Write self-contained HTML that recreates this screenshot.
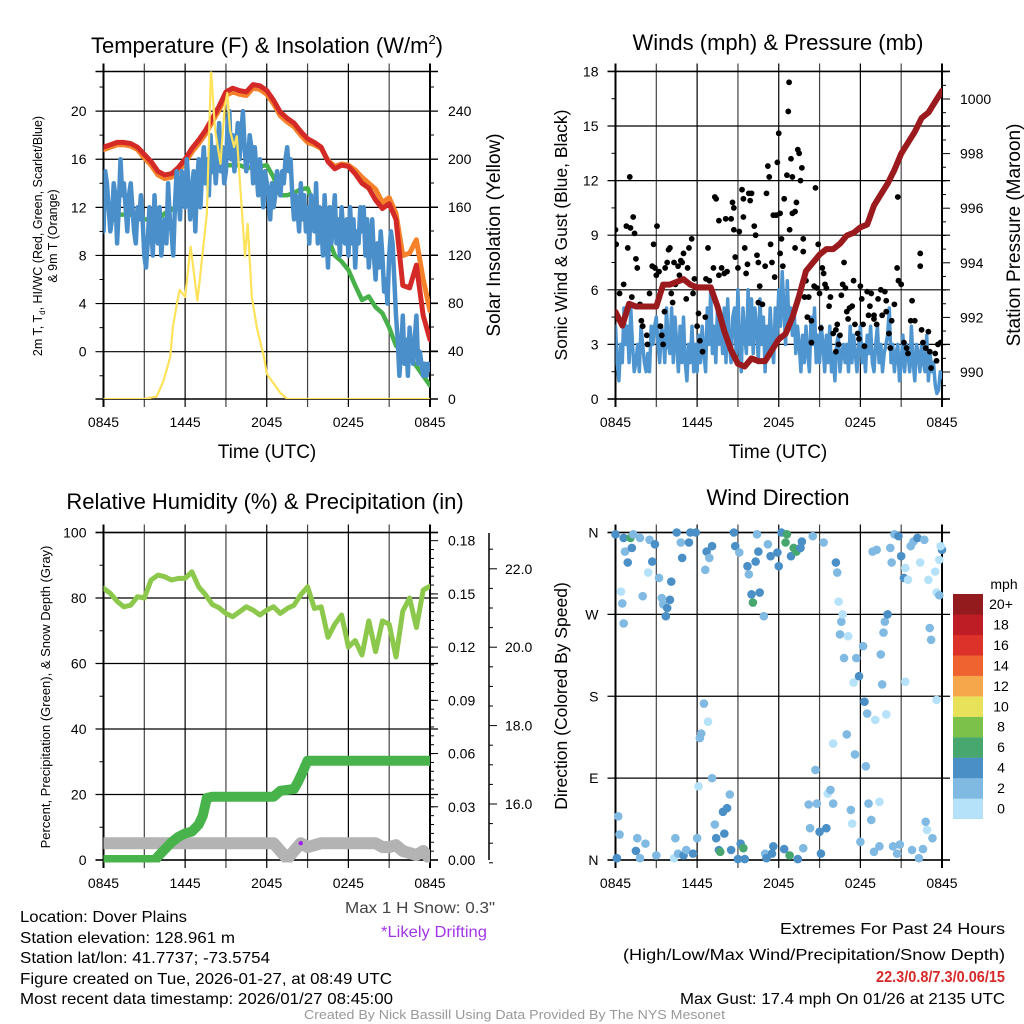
<!DOCTYPE html>
<html><head><meta charset="utf-8"><style>
html,body{margin:0;padding:0;background:#fff;}
svg{display:block;font-family:"Liberation Sans",sans-serif;}
</style></head><body>
<svg id="fig" width="1024" height="1024" viewBox="0 0 1024 1024" xmlns="http://www.w3.org/2000/svg">
<defs>
<clipPath id="c1"><rect x="103.5" y="71.5" width="326.5" height="327.5"/></clipPath>
<clipPath id="c2"><rect x="615.5" y="71.5" width="326.5" height="327.5"/></clipPath>
<clipPath id="c3"><rect x="103.5" y="532.5" width="326.5" height="330"/></clipPath>
<clipPath id="c4"><rect x="611" y="527" width="336" height="338"/></clipPath>
</defs>
<g id="g1"></g>
<g id="g2"></g>
<g id="g3"></g>
<g id="g4"></g>

<text x="267" y="53" font-size="22" text-anchor="middle">Temperature (F) &amp; Insolation (W/m<tspan font-size="13" dy="-9">2</tspan><tspan dy="9">)</tspan></text>
<text x="778" y="50" font-size="22" text-anchor="middle">Winds (mph) &amp; Pressure (mb)</text>
<text x="265" y="509" font-size="22" text-anchor="middle">Relative Humidity (%) &amp; Precipitation (in)</text>
<text x="778" y="505" font-size="22" text-anchor="middle">Wind Direction</text>

<text x="267" y="458" font-size="19" text-anchor="middle">Time (UTC)</text>
<text x="778" y="458" font-size="19" text-anchor="middle">Time (UTC)</text>

<text transform="translate(42,236) rotate(-90)" font-size="12.5" text-anchor="middle">2m T, T<tspan font-size="8" dy="3">d</tspan><tspan dy="-3">, HI/WC (Red, Green, Scarlet/Blue)</tspan></text>
<text transform="translate(57,236) rotate(-90)" font-size="12.5" text-anchor="middle">&amp; 9m T (Orange)</text>
<text transform="translate(500,235) rotate(-90)" font-size="19" text-anchor="middle">Solar Insolation (Yellow)</text>
<text transform="translate(567,235) rotate(-90)" font-size="17.5" text-anchor="middle">Sonic Wind &amp; Gust (Blue, Black)</text>
<text transform="translate(1020,235) rotate(-90)" font-size="19" text-anchor="middle">Station Pressure (Maroon)</text>
<text transform="translate(50,697) rotate(-90)" font-size="13" text-anchor="middle">Percent, Precipitation (Green), &amp; Snow Depth (Gray)</text>
<text transform="translate(567,696) rotate(-90)" font-size="17.5" text-anchor="middle">Direction (Colored By Speed)</text>

<text x="345" y="913" font-size="16" fill="#444" textLength="150" lengthAdjust="spacingAndGlyphs">Max 1 H Snow: 0.3"</text>
<text x="381" y="937" font-size="16" fill="#a236e8" textLength="106" lengthAdjust="spacingAndGlyphs">*Likely Drifting</text>

<g font-size="16">
<text x="20" y="922" textLength="167" lengthAdjust="spacingAndGlyphs">Location: Dover Plains</text>
<text x="20" y="943" textLength="215" lengthAdjust="spacingAndGlyphs">Station elevation: 128.961 m</text>
<text x="20" y="963" textLength="250" lengthAdjust="spacingAndGlyphs">Station lat/lon: 41.7737; -73.5754</text>
<text x="20" y="984" textLength="372" lengthAdjust="spacingAndGlyphs">Figure created on Tue, 2026-01-27, at 08:49 UTC</text>
<text x="20" y="1004" textLength="373" lengthAdjust="spacingAndGlyphs">Most recent data timestamp: 2026/01/27 08:45:00</text>
</g>
<g font-size="16">
<text x="780" y="934" textLength="225" lengthAdjust="spacingAndGlyphs">Extremes For Past 24 Hours</text>
<text x="623" y="960" textLength="382" lengthAdjust="spacingAndGlyphs">(High/Low/Max Wind/Precipitation/Snow Depth)</text>
<text x="876" y="982" font-weight="bold" fill="#d62a2a" textLength="129" lengthAdjust="spacingAndGlyphs">22.3/0.8/7.3/0.06/15</text>
<text x="680" y="1004" textLength="325" lengthAdjust="spacingAndGlyphs">Max Gust: 17.4 mph On 01/26 at 2135 UTC</text>
</g>
<text x="304" y="1019" font-size="13" fill="#999" textLength="421" lengthAdjust="spacingAndGlyphs">Created By Nick Bassill Using Data Provided By The NYS Mesonet</text>
</svg>
<script>
// ---------- DATA ----------
const xTickLabels = ["0845","1445","2045","0245","0845"];
// Panel 1 (half-hourly, 49 pts over 24h)
const temp2m = [17.0,17.2,17.4,17.4,17.3,17.0,16.4,15.8,15.0,14.7,14.8,15.3,16.0,16.9,17.6,18.4,19.4,20.4,21.6,21.9,21.7,21.6,22.2,22.1,21.7,20.9,19.9,19.4,19.0,18.3,17.7,17.4,17.0,15.8,15.2,15.5,15.4,14.8,14.0,13.6,12.6,11.9,12.3,11.0,5.5,5.3,7.2,3.0,1.0];
const temp9m = [16.8,17.0,17.2,17.2,17.1,16.8,16.1,15.5,14.7,14.4,14.5,15.0,15.7,16.6,17.3,18.1,19.1,20.1,21.3,21.6,21.4,21.3,21.9,21.8,21.4,20.6,19.6,19.1,18.7,18.0,17.4,17.2,16.9,15.9,15.4,15.6,15.5,15.1,14.5,14.0,13.5,12.4,12.8,11.5,8.0,8.2,9.3,6.0,3.4];
const dewpoint = [12.5,11.6,11.4,11.4,11.4,11.3,11.0,11.0,11.0,11.5,11.8,12.0,12.5,13.2,14.0,14.5,15.0,15.2,15.5,15.5,15.5,15.3,15.3,15.4,15.5,14.5,13.0,13.0,13.2,13.5,13.6,12.0,11.0,9.5,8.0,7.5,6.8,5.5,4.3,4.6,3.7,3.2,2.0,0.5,0.0,-0.5,-1.2,-2.0,-2.8];
// wind chill (7.5-min, 193 pts)
const windChill = [10,15,14,12,10,11,14,13, 9,12,16,13,14,12,10,13, 14,12,10,9,12,11,13,11, 8,7,9,12,11,8,13,10, 9,12,8,10,11,9,14,11, 10,8,12,15,13,11,15,14, 12,16,14,11,13,15,10,14, 16,12,15,17,14,16,13,18, 15,17,14,16,19,15,17,14, 15,19,20,16,18,15,17,19, 16,18,20,17,15,16,18,17, 14,17,15,13,16,14,12,15, 14,13,11,14,12,13,15,14, 13,15,14,16,17,15,16,13, 11,13,12,10,14,11,13,10, 12,9,13,11,10,14,9,12, 11,8,13,10,7,12,9,11, 13,9,11,8,12,10,9,11, 8,12,9,11,7,10,9,12, 10,12,8,11,7,9,11,8, 6,9,7,10,8,5,6,4, 8,10,9,6,3,1,-2,0, 3,-1,1,-2,2,0,-1,1, 3,-1,0,-1,-2,-1,-2,-1,-1.5];
const solarHours = [0,3.0,3.9,4.4,4.9,5.1,5.4,5.6,6.0,6.4,6.9,7.1,7.6,7.9,8.2,8.6,8.9,9.1,9.3,9.6,9.8,10.1,10.4,10.6,10.9,11.3,11.8,12.0,12.5,13.0,13.5,24];
const solarVals  = [0,0,2,15,35,60,80,91,85,127,82,102,155,275,224,196,243,255,224,210,219,169,119,146,85,58,35,21,13,5,0,0];
// Panel 2 (7.5-min, 193 pts)
const windSpeed = [4,2,1,3,2,5,3,4, 2,5,3,1.5,2,3,1.5,4, 3,2,1.5,2.5,1.5,4,3,4, 4.5,3,2,4,3.5,2,5,3, 2.5,5,2,4.5,3,1.5,4,2, 4.5,2,1,3,2,4,1.5,3, 1.5,3.5,2,4,2.5,1.5,5,3, 6,2.5,4,2,5,3,4.5,2.5, 5,2,5.5,3,2,4.5,5,2.5, 6,3,1.5,5,3.5,2.5,6,3, 5.5,2.5,5,4,2,5.5,3,4.5, 1.5,4,2.5,5,3,2,5,3.5, 6,4,7,5,3,6.5,4,5, 3.5,5,2.5,4,3,1.5,3.5,2, 4,2.5,1.5,4.5,3,5,2,3.5, 2,4,3,1.5,3.5,2,4,1.5, 2.5,1,3,3.5,1.5,2.5,3,2, 3,1.5,4,2,3.5,2.5,1.5,3, 4,2,3,1.5,3.5,2.5,4,2, 1.5,3,4,2,3,1.5,2.5,3, 3.5,5,2,3,1.5,2.5,3,1, 2,3.5,1.5,3,2.5,1.5,4,2, 1,3,2.5,1.5,3,2,1.5,3.5, 1,2.5,1.5,2,0.8,0.3,0.5,1.5,1.2];
const pressure = [992.2,991.7,992.5,992.4,992.4,992.4,992.4,993.2,993.2,993.3,993.4,993.2,993.1,993.1,993.1,992.4,991.5,990.8,990.3,990.2,990.5,990.4,990.4,990.8,991.2,991.4,992.0,992.8,993.7,994.0,994.3,994.5,994.5,994.7,995.0,995.1,995.3,995.4,996.1,996.5,996.9,997.4,998.0,998.4,998.8,999.3,999.5,999.9,1000.3];
const gustHours = [0,0.05,0.3,0.6,0.8,0.9,1.05,1.1,1.3,1.4,1.5,1.6,1.2,1.8,1.9,2.0,2.3,2.35,2.5,2.7,2.8,2.9,3.0,3.05,3.2,3.3,3.4,3.5,3.6,3.65,3.8,3.9,4.0,4.1,4.2,4.3,4.4,4.6,4.7,4.8,4.9,5.0,5.2,5.3,5.4,5.6,5.7,5.8,6.0,6.1,6.2,6.4,6.6,6.65,6.8,6.9,7.2,7.3,7.4,7.6,7.6,7.8,8.0,8.1,8.2,8.5,8.6,8.7,8.7,8.8,9.0,9.1,9.3,9.4,9.4,9.5,9.6,9.7,9.8,9.9,10.0,10.2,10.3,10.4,10.5,10.5,10.6,10.8,11.0,11.1,11.2,11.3,11.4,11.5,11.6,11.7,11.8,11.9,12.0,12.1,12.1,12.2,12.3,12.4,12.6,12.7,12.76,12.8,12.9,13.0,13.0,13.2,13.2,13.3,13.4,13.5,13.6,13.7,13.8,13.8,13.9,14.0,14.1,14.2,14.4,14.4,14.6,14.7,14.8,14.9,15.0,15.1,15.2,15.3,15.4,15.5,15.7,15.8,16.0,16.2,16.2,16.3,16.4,16.5,16.6,16.7,16.8,16.9,17.0,17.1,17.2,17.4,17.5,17.6,17.8,17.9,18.0,18.1,18.2,18.3,18.5,18.6,18.7,18.8,19.0,19.0,19.2,19.3,19.5,19.6,19.8,19.9,19.9,20.1,20.2,20.3,20.5,20.7,20.75,20.8,21.0,21.2,21.4,21.5,21.7,21.8,22.0,22.4,22.4,22.5,22.6,22.8,23.0,23.1,23.2,23.5,23.6,23.7,23.9];
const gustVals = [9.3,8.5,5.8,6.3,9.5,8.3,12.2,9.4,10,9.1,7.7,7.2,5.6,5.2,4.3,4,3.5,3,5.8,7.3,8.5,7.2,6.8,9.5,7,4,3.5,3,4.8,7.2,7.5,8.2,8.3,5.8,5.3,7.5,6.3,7.3,6.8,7.6,7.5,8,5.5,7.2,8.3,8.8,5.8,6.6,4,4.7,3.2,2.6,4.5,6.6,8.3,6.5,7.2,11.1,11,9.8,6.8,7.2,6.9,9.9,7,9.9,10.8,9.3,10.5,7.8,7.2,9.2,11.5,11,10,8.3,6.9,7.4,11.3,10.9,11.3,9.5,9,7.9,7.5,5.3,6.2,5.2,7.3,11.3,12.8,12.2,8.5,7.5,10.1,6.7,10.1,13,14.6,10.2,8,8.8,7.3,11,12.3,15.8,17.4,9.3,13.2,10.2,12.2,10.3,8.3,10.8,13.7,13.5,12,12.7,8.1,8.8,5.6,6.5,4.5,5.6,4.3,3.1,6.2,11.6,6.1,8.5,5.8,3.9,7.2,6.9,6.3,6.1,5.1,5.6,3.6,3.8,2.6,4.1,3,3.5,5.7,6.3,7.5,6.1,4.8,4.4,5,5.1,6.5,4.1,3.6,3.3,6.2,5.5,4.1,2.9,5.9,4.6,5.1,5.8,4.6,4.4,4.1,5.5,6.0,4.6,5.9,5.4,4.8,3.6,2.8,4.3,5.2,7.2,11.1,6.5,6.3,3.1,2.8,2.5,4.3,5.4,4.3,8,7.3,3.8,3.1,2.8,3.7,2.6,1.7,2.5,2.1,3,3.1];
// Panel 3
const humidity = [83,81.4,79,77.3,77.8,80.4,80,85.5,87,86.5,85.5,86,86,88,83.4,81,78,77,75.3,74.3,75.8,77.3,76.3,74.8,76.3,77.3,75.3,76.8,77.8,81,83.4,76.8,77.3,68,72,74.8,65,67,62.6,73,63.6,73,72,62,76,80,71,82.4,83.6];
const precipHours = [0,3.8,4.0,4.5,5.0,5.5,6.0,6.5,7.0,7.3,7.6,8.0,12.5,13.0,14.0,14.3,14.6,15.0,24];
const precipVals  = [0,0,0.002,0.006,0.010,0.013,0.015,0.016,0.020,0.025,0.035,0.0357,0.0357,0.039,0.040,0.044,0.049,0.056,0.056];
const snowHours = [0,12.5,13.0,13.5,14.0,14.5,15.0,16.0,20.0,20.5,21.0,21.5,22.0,23.0,23.5,24];
const snowDepth = [15,15,14.8,14.6,14.8,15,14.9,15,15,14.9,14.9,14.95,14.8,14.7,14.8,14.6];
const driftHour = [14.5];
const driftDepth = [15];
// Panel 4
const dirHours = [0,0.1,0.2,0.3,0.4,0.5,0.6,0.6,0.7,0.9,1.1,1.2,1.3,1.5,1.6,1.8,1.8,2.0,2.2,2.4,2.5,2.7,2.9,3.0,3.2,3.4,3.5,3.7,3.8,4.0,4.1,4.3,4.4,4.5,4.6,4.8,4.9,5.0,5.2,5.4,5.5,5.7,5.9,6.0,6.1,6.2,6.3,6.5,6.6,6.7,6.8,6.9,7.1,7.1,7.3,7.4,7.6,7.7,7.9,8.0,8.2,8.4,8.5,8.7,8.8,9.0,9.1,9.2,9.4,9.5,9.7,9.8,10.0,10.1,10.3,10.4,10.5,10.6,10.9,11.0,11.1,11.2,11.4,11.5,11.6,11.9,12.0,12.2,12.4,12.5,12.6,12.8,12.9,13.1,13.3,13.4,13.6,13.7,13.8,14.2,14.3,14.5,14.7,14.8,15.0,15.1,15.3,15.5,15.6,15.8,16.0,16.0,16.2,16.3,16.4,16.5,16.6,16.7,16.8,17.0,17.1,17.3,17.4,17.5,17.6,17.7,17.9,18.0,18.2,18.3,18.4,18.5,18.6,18.8,18.9,19.0,19.1,19.2,19.4,19.4,19.5,19.6,19.7,19.8,19.9,20.0,20.2,20.3,20.4,20.5,20.7,20.8,20.9,21.0,21.2,21.3,21.3,21.5,21.7,21.8,21.9,22.2,22.3,22.4,22.6,22.7,22.8,22.9,23.0,23.1,23.2,23.3,23.5,23.6,23.6,23.8,23.8,24.0,23.9];
const dirDegrees = [358,2,48,28,295,282,260,354,339,327,354,343,358,10,24,2,354,290,18,316,352,328,347,5,310,288,281,268,277,286,306,2,24,360,7,349,332,5,11,349,360,7,360,24,81,134,139,172,319,339,152,332,345,90,39,24,11,9,53,29,57,72,11,360,345,1,338,18,13,1,323,314,292,283,328,358,339,294,268,7,2,347,334,7,15,338,323,360,12,349,358,5,334,343,339,1,343,350,13,61,35,356,99,62,31,7,349,35,73,77,128,62,327,316,284,248,262,270,222,138,246,55,40,195,116,222,202,20,235,174,103,161,62,44,339,9,154,341,15,64,226,193,250,262,160,270,343,327,15,358,7,356,17,334,310,196,321,308,345,11,350,354,2,327,12,352,42,33,308,255,242,24,317,294,176,291,330,341,345];
const dirSpeeds = [4,4,2,2,0,2,2,4,2,4,6,4,2,4,2,2,2,2,2,0,2,4,4,2,2,2,2,4,4,4,4,0,2,4,2,2,4,4,2,4,4,4,4,2,0,2,2,2,2,4,0,2,4,2,2,4,4,6,4,4,4,2,4,4,4,4,2,4,6,4,4,2,4,6,4,2,4,4,2,2,4,2,4,4,4,4,4,4,4,6,6,6,4,6,6,4,4,4,2,2,2,2,2,2,4,4,2,4,0,2,0,2,4,2,0,2,2,0,2,2,0,2,0,0,2,2,4,2,2,4,2,2,2,2,2,2,0,2,2,0,2,2,2,2,0,4,2,2,2,2,2,4,2,4,4,0,0,0,2,2,2,4,2,0,2,2,2,0,0,2,2,2,0,0,0,2,0,4,0];
const speedBins = ["0","2","4","6","8","10","12","14","16","18","20+"];
const binColors = ["#b5e2f8","#80b9e2","#4a8fc6","#48a66f","#7cc24a","#e8e25a","#f6a74b","#ef6330","#dc3229","#bf1d25","#931b1e"];

// ---------- HELPERS ----------
const NS="http://www.w3.org/2000/svg";
function mk(parent,tag,attrs){const e=document.createElementNS(NS,tag);for(const k in attrs)e.setAttribute(k,attrs[k]);parent.appendChild(e);return e;}
function txt(parent,x,y,s,size,anchor){const e=mk(parent,"text",{x:x,y:y,"font-size":size,"text-anchor":anchor||"middle"});e.textContent=s;return e;}
function pathFrom(xs,ys){let d="";for(let i=0;i<xs.length;i++)d+=(i?"L":"M")+xs[i].toFixed(1)+","+ys[i].toFixed(1);return d;}
function evenHours(n){const a=[];for(let i=0;i<n;i++)a.push(24*i/(n-1));return a;}

function frame(g,P){
  for(let i=0;i<=8;i++){
    const x=P.L+(P.R-P.L)*i/8;
    const ln=mk(g,"line",{x1:x,x2:x,y1:P.T-8,y2:P.B+8,stroke:(i%2==0?"#000":"#444"),"stroke-width":(i==0||i==8)?2:1.2});
    
    
  }
  for(let i=0;i<5;i++){
    const x=P.L+(P.R-P.L)*i/4;
    const t=txt(g,x,P.B+28,xTickLabels[i],14);
    
    
  }
  const b=mk(g,"line",{x1:P.L-8,x2:P.R+8,y1:P.T,y2:P.T,stroke:"#000","stroke-width":1.5});
  
  
  const b2=mk(g,"line",{x1:P.L-8,x2:P.R+8,y1:P.B,y2:P.B,stroke:"#000","stroke-width":1.5});
  
  
}
function hgrid(g,P,y,label){
  const ln=mk(g,"line",{x1:P.L-8,x2:P.R+8,y1:y,y2:y,stroke:"#000","stroke-width":1.2});
  
  
  if(label!==null){const t=txt(g,P.L-17,y+5,label,14,"end");
    
    }
}
function tick(g,x1,x2,y){const l=mk(g,"line",{x1:x1,x2:x2,y1:y,y2:y,stroke:"#000","stroke-width":1});
  
  }

// ---------- PANEL 1 ----------
(function(){
  const g=document.getElementById("g1");
  const P={L:103.5,R:430,T:71.5,B:399};
  const X=h=>P.L+h/24*(P.R-P.L);
  const Y=v=>351.7-v*12.03;
  const YR=v=>399-v*1.2;
  frame(g,P);
  for(let v=0;v<=20;v+=4)hgrid(g,P,Y(v),String(v));
  for(let v=-2;v<=22;v+=4)tick(g,P.L-4,P.L,Y(v));
  for(let v=0;v<=240;v+=40){tick(g,P.R,P.R+8,YR(v));
    const t=txt(g,P.R+18,YR(v)+5,String(v),14,"start");
    
    }
  for(let v=20;v<=260;v+=40)tick(g,P.R,P.R+4,YR(v));
  const lg=mk(g,"g",{"clip-path":"url(#c1)",fill:"none","stroke-linejoin":"round","stroke-linecap":"round"});
  let p;
  p=mk(lg,"path",{d:pathFrom(evenHours(temp9m.length).map(X),temp9m.map(Y)),stroke:"#f5822a","stroke-width":5});
  
  
  p=mk(lg,"path",{d:pathFrom(evenHours(temp2m.length).map(X),temp2m.map(Y)),stroke:"#d42a27","stroke-width":5});
  
  
  p=mk(lg,"path",{d:pathFrom(evenHours(dewpoint.length).map(X),dewpoint.map(Y)),stroke:"#48b04a","stroke-width":4.5});
  
  
  p=mk(lg,"path",{d:pathFrom(evenHours(windChill.length).map(X),windChill.map(Y)),stroke:"#4a8fc9","stroke-width":4.5});
  
  
  p=mk(lg,"path",{d:pathFrom(solarHours.map(X),solarVals.map(YR)),stroke:"#fde25a","stroke-width":2.2});
  
  
})();

// ---------- PANEL 2 ----------
(function(){
  const g=document.getElementById("g2");
  const P={L:615.5,R:942,T:71.5,B:399};
  const X=h=>P.L+h/24*(P.R-P.L);
  const Y=v=>399-v*18.2;
  const YR=p=>372-(p-990)*27.3;
  frame(g,P);
  for(let v=0;v<=18;v+=3)hgrid(g,P,Y(v),String(v));
  for(let v=1.5;v<=18;v+=3)tick(g,P.L-4,P.L,Y(v));
  for(let p=989;p<=1001;p+=0.5){const maj=(p%2==0);tick(g,P.R,P.R+(maj?8:4),YR(p));
    if(maj){const t=txt(g,P.R+18,YR(p)+5,String(p),14,"start");
      
      }}
  const lg=mk(g,"g",{"clip-path":"url(#c2)","stroke-linejoin":"round","stroke-linecap":"round"});
  let p=mk(lg,"path",{d:pathFrom(evenHours(windSpeed.length).map(X),windSpeed.map(Y)),stroke:"#4f95d0","stroke-width":3.5,fill:"none"});
  
  
  for(let i=0;i<gustHours.length;i++){
    const c=mk(lg,"circle",{cx:X(gustHours[i]),cy:Y(gustVals[i]),r:2.9,fill:"#000"});
    
    
  }
  p=mk(lg,"path",{d:pathFrom(evenHours(pressure.length).map(X),pressure.map(YR)),stroke:"#9b1a1d","stroke-width":6,fill:"none"});
  
  
})();

// ---------- PANEL 3 ----------
(function(){
  const g=document.getElementById("g3");
  const P={L:103.5,R:430,T:532.5,B:860};
  const X=h=>P.L+h/24*(P.R-P.L);
  const Y=v=>860-v*3.275;
  const YP=v=>860-v*1774;
  const YS=s=>804-(s-16)*39.2;
  frame(g,P);
  for(let v=0;v<=100;v+=20)hgrid(g,P,Y(v),String(v));
  for(let v=10;v<=90;v+=20)tick(g,P.L-4,P.L,Y(v));
  const labs=["0.00","0.03","0.06","0.09","0.12","0.15","0.18"];
  for(let i=0;i<=6;i++){tick(g,P.R,P.R+8,YP(i*0.03));
    const t=txt(g,P.R+18,YP(i*0.03)+5,labs[i],14,"start");
    
    }
  for(let i=0;i<36;i++)tick(g,P.R,P.R+4,YP(i*0.005));
  const ax=mk(g,"line",{x1:489,x2:489,y1:533,y2:860,stroke:"#000","stroke-width":1.5});
  
  
  for(let s=14.5;s<=22.6;s+=0.5){const maj=(s%2==0);tick(g,489,489+(maj?8:4),YS(s));
    if(maj){const t=txt(g,505,YS(s)+5,s.toFixed(1),14,"start");
      
      }}
  const lg=mk(g,"g",{"clip-path":"url(#c3)",fill:"none","stroke-linejoin":"round","stroke-linecap":"round"});
  let p=mk(lg,"path",{d:pathFrom(snowHours.map(X),snowDepth.map(YS)),stroke:"#b3b3b3","stroke-width":12});
  
  
  p=mk(lg,"path",{d:pathFrom(precipHours.map(X),precipVals.map(YP)),stroke:"#48b24b","stroke-width":10});
  
  
  p=mk(lg,"path",{d:pathFrom(evenHours(humidity.length).map(X),humidity.map(Y)),stroke:"#8cc84b","stroke-width":5});
  
  
  const d=mk(g,"circle",{cx:X(driftHour[0]),cy:YS(driftDepth[0]),r:2.2,fill:"#a020f0"});
  
  
})();

// ---------- PANEL 4 ----------
(function(){
  const g=document.getElementById("g4");
  const P={L:615.5,R:942,T:532.5,B:860};
  const X=h=>P.L+h/24*(P.R-P.L);
  const Y=d=>860-d*(327.5/360);
  frame(g,P);
  const dl=["N","E","S","W","N"];
  for(let i=0;i<5;i++)hgrid(g,P,Y(i*90),dl[i]);
  const lg=mk(g,"g",{"clip-path":"url(#c4)"});
  for(let i=0;i<dirHours.length;i++){
    const bi=Math.min(10,Math.floor(dirSpeeds[i]/2));
    const c=mk(lg,"circle",{cx:X(dirHours[i]),cy:Y(dirDegrees[i]),r:4.3,fill:binColors[bi]});
    
    
  }
  const mph=txt(g,1004,589,"mph",14);
  
  
  for(let i=0;i<11;i++){
    const y=594+(10-i)*20.45;
    const r=mk(g,"rect",{x:953,y:y,width:30,height:20.6,fill:binColors[i]});
    
    
    const t=txt(g,1001,y+15,speedBins[i],14);
    
    
  }
})();
</script>
</body></html>
